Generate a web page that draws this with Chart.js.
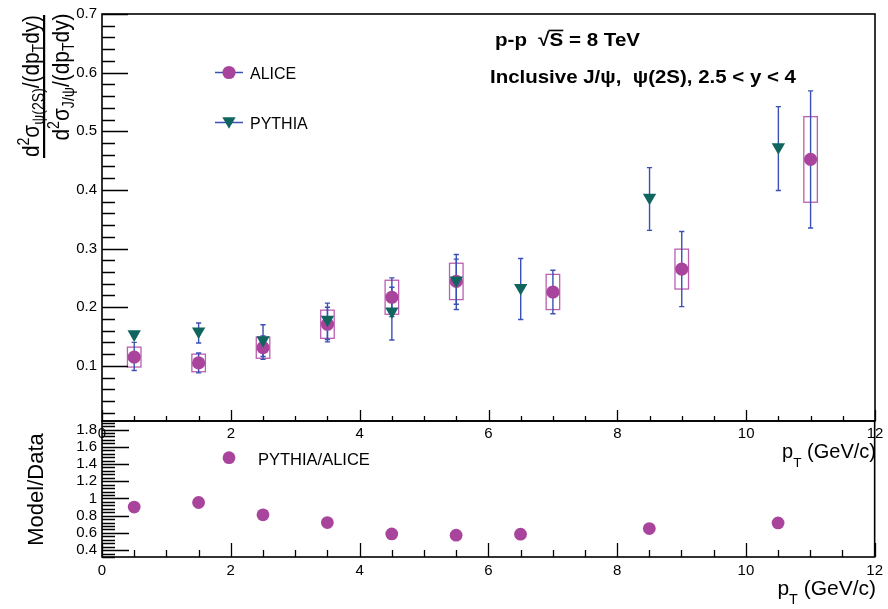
<!DOCTYPE html>
<html>
<head>
<meta charset="utf-8">
<script src="https://cdn.jsdelivr.net/npm/chart.js@4.4.1/dist/chart.umd.min.js"></script>
<style>
  body { margin: 0; background: #fff; }
  #wrap { position: relative; width: 888px; height: 609px; }
  #wrap canvas { position: absolute; left: 0; top: 0; }
</style>
</head>
<body>
<div id="wrap">
  <canvas id="mainChart" width="888" height="609"></canvas>
  <canvas id="ratioChart" width="888" height="609"></canvas>
</div>
<script>
// ALICE psi(2S)/J/psi ratio (points + stat errors + syst boxes)
const aliceX = [0.5, 1.5, 2.5, 3.5, 4.5, 5.5, 7, 9, 11];
const aliceY = [0.115, 0.105, 0.131, 0.171, 0.217, 0.244, 0.226, 0.265, 0.452];
const aliceStatUp = [0.025, 0.017, 0.020, 0.036, 0.033, 0.038, 0.037, 0.064, 0.117];
const aliceStatDown = [0.023, 0.017, 0.020, 0.030, 0.033, 0.039, 0.037, 0.064, 0.117];
const aliceSyst = [0.017, 0.015, 0.018, 0.024, 0.029, 0.031, 0.030, 0.034, 0.073];

// PYTHIA prediction
const pythiaX = [0.5, 1.5, 2.5, 3.5, 4.5, 5.5, 6.5, 8.5, 10.5];
const pythiaY = [0.154, 0.159, 0.144, 0.179, 0.193, 0.246, 0.233, 0.387, 0.473];
const pythiaErrUp = [0.004, 0.014, 0.026, 0.021, 0.041, 0.044, 0.050, 0.051, 0.069];
const pythiaErrDown = [0.004, 0.020, 0.028, 0.034, 0.049, 0.050, 0.054, 0.056, 0.074];

// PYTHIA/ALICE
const ratioX = [0.5, 1.5, 2.5, 3.5, 4.5, 5.5, 6.5, 8.5, 10.5];
const ratioY = [0.90, 0.953, 0.81, 0.72, 0.588, 0.573, 0.585, 0.65, 0.716];

// axes
const xTicks = [0, 2, 4, 6, 8, 10, 12];
const mainYTicks = [0.1, 0.2, 0.3, 0.4, 0.5, 0.6, 0.7];
const ratioYTicks = [0.4, 0.6, 0.8, 1, 1.2, 1.4, 1.6, 1.8];

const MAGENTA = '#a9449c';
const TEAL = '#10665f';
const BLUE = '#3b50b3';
const BOX = '#bb5fb0';
const FONT = "'Liberation Sans', Arial, sans-serif";

Chart.defaults.font.family = FONT;
Chart.defaults.color = '#000';

// texte avec indices / exposants (style ROOT)
function richText(ctx, parts, x, y, size, opt) {
    opt = opt || {};
    const weight = opt.bold ? 'bold ' : '';
    const subOff = opt.sub !== undefined ? opt.sub : 0.32;
    const fontFor = k => weight + (k === 'sub' || k === 'sup' ? size * 0.68 : size) + 'px ' + FONT;
    let total = 0;
    parts.forEach(p => { ctx.font = fontFor(p[1]); total += ctx.measureText(p[0]).width; });
    ctx.save();
    ctx.translate(x, y);
    if (opt.rotate) ctx.rotate(-Math.PI / 2);
    const sx = opt.width ? opt.width / total : 1;
    ctx.scale(sx, 1);
    let cx = opt.align === 'center' ? -total / 2 : (opt.align === 'right' ? -total : 0);
    ctx.fillStyle = '#000';
    ctx.textBaseline = 'alphabetic';
    ctx.textAlign = 'left';
    parts.forEach(p => {
        ctx.font = fontFor(p[1]);
        const w = ctx.measureText(p[0]).width;
        let dy = 0;
        if (p[1] === 'sub') dy = size * subOff;
        if (p[1] === 'sup') dy = -size * 0.42;
        ctx.fillText(p[0], cx, dy);
        if (p[1] === 'bar') {
            ctx.fillRect(cx - 1, -size * 0.86, w + 1, 1.6);
        }
        cx += w;
    });
    ctx.restore();
}

function drawFrameAndTicks(chart, cfg) {
    const { ctx, chartArea: a, scales: { x, y } } = chart;
    ctx.save();
    ctx.strokeStyle = '#000';
    ctx.lineWidth = 1.3;
    ctx.beginPath();
    for (let i = 0; i <= 24; i++) {
        const px = Math.round(x.getPixelForValue(i * 0.5)) + 0.5;
        const len = i % 4 === 0 ? cfg.xMajor : cfg.xMinor;
        ctx.moveTo(px, a.bottom);
        ctx.lineTo(px, a.bottom - len);
    }
    const first = Math.ceil(y.min / cfg.yStep - 1e-6);
    for (let i = first; i * cfg.yStep <= y.max + 1e-9; i++) {
        const py = Math.round(y.getPixelForValue(i * cfg.yStep)) + 0.5;
        const len = i % 5 === 0 ? cfg.yMajor : cfg.yMinor;
        ctx.moveTo(a.left, py);
        ctx.lineTo(a.left + len, py);
    }
    ctx.stroke();
    ctx.lineWidth = 1.6;
    ctx.strokeRect(a.left, a.top, a.right - a.left, a.bottom - a.top);
    ctx.restore();
}

function errorBar(ctx, x, y, xv, yv, up, down) {
    const px = x.getPixelForValue(xv);
    const top = y.getPixelForValue(yv + up);
    const bot = y.getPixelForValue(yv - down);
    ctx.beginPath();
    ctx.moveTo(px, top); ctx.lineTo(px, bot);
    ctx.moveTo(px - 2.6, top); ctx.lineTo(px + 2.6, top);
    ctx.moveTo(px - 2.6, bot); ctx.lineTo(px + 2.6, bot);
    ctx.stroke();
}

function downTriangle(ctx, cx, cy, r, color) {
    ctx.fillStyle = color;
    ctx.beginPath();
    ctx.moveTo(cx, cy + r);
    ctx.lineTo(cx - r * 0.866, cy - r * 0.5);
    ctx.lineTo(cx + r * 0.866, cy - r * 0.5);
    ctx.closePath();
    ctx.fill();
}

const mainPlugin = {
    id: 'mainDeco',
    beforeDatasetsDraw(chart) {
        const { ctx, scales: { x, y } } = chart;
        ctx.save();
        // boites systematiques ALICE
        ctx.strokeStyle = BOX;
        ctx.lineWidth = 1.3;
        aliceX.forEach((xv, i) => {
            const x0 = x.getPixelForValue(xv - 0.105);
            const x1 = x.getPixelForValue(xv + 0.105);
            const y0 = y.getPixelForValue(aliceY[i] + aliceSyst[i]);
            const y1 = y.getPixelForValue(aliceY[i] - aliceSyst[i]);
            ctx.strokeRect(x0, y0, x1 - x0, y1 - y0);
        });
        // barres d'erreur
        ctx.strokeStyle = BLUE;
        ctx.lineWidth = 1.4;
        aliceX.forEach((xv, i) => errorBar(ctx, x, y, xv, aliceY[i], aliceStatUp[i], aliceStatDown[i]));
        pythiaX.forEach((xv, i) => errorBar(ctx, x, y, xv, pythiaY[i], pythiaErrUp[i], pythiaErrDown[i]));
        ctx.restore();
    },
    afterDraw(chart) {
        const ctx = chart.ctx;
        drawFrameAndTicks(chart, { xMajor: 11, xMinor: 5, yStep: 0.02, yMajor: 26, yMinor: 13 });

        // legende
        ctx.save();
        ctx.strokeStyle = BLUE;
        ctx.lineWidth = 1.4;
        ctx.beginPath();
        ctx.moveTo(215, 72.5); ctx.lineTo(243, 72.5);
        ctx.moveTo(215, 122.5); ctx.lineTo(243, 122.5);
        ctx.stroke();
        ctx.fillStyle = MAGENTA;
        ctx.beginPath();
        ctx.arc(229, 72.5, 6.6, 0, Math.PI * 2);
        ctx.fill();
        downTriangle(ctx, 229, 121, 7.7, TEAL);
        ctx.restore();
        richText(ctx, [['ALICE', '']], 250, 79, 16);
        richText(ctx, [['PYTHIA', '']], 250, 129, 16);

        // titres
        richText(ctx, [['p-p  ', ''], ['\u221A', ''], ['S', 'bar'], [' = 8 TeV', '']], 495, 46, 19, { bold: true, width: 145 });
        richText(ctx, [['Inclusive J/\u03C8,  \u03C8(2S), 2.5 < y < 4', '']], 490, 83, 19, { bold: true, width: 306 });

        // titre axe y (fraction)
        richText(ctx, [['d', ''], ['2', 'sup'], ['\u03C3', ''], ['\u03C8(2S)', 'sub'], ['/(dp', ''], ['T', 'sub'], ['dy)', '']],
            39, 86, 24, { rotate: true, align: 'center', width: 142, sub: 0.22 });
        richText(ctx, [['d', ''], ['2', 'sup'], ['\u03C3', ''], ['J/\u03C8', 'sub'], ['/(dp', ''], ['T', 'sub'], ['dy)', '']],
            69, 77, 24, { rotate: true, align: 'center', width: 127, sub: 0.22 });
        ctx.save();
        ctx.fillStyle = '#000';
        ctx.fillRect(43, 15, 2.2, 143);
        ctx.restore();

        // titre axe x
        richText(ctx, [['p', ''], ['T', 'sub'], [' (GeV/c)', '']], 876, 458, 20, { align: 'right', sub: 0.45 });
    }
};

const ratioPlugin = {
    id: 'ratioDeco',
    afterDraw(chart) {
        const ctx = chart.ctx;
        drawFrameAndTicks(chart, { xMajor: 14, xMinor: 7, yStep: 0.04, yMajor: 27, yMinor: 13 });
        ctx.save();
        ctx.fillStyle = MAGENTA;
        ctx.beginPath();
        ctx.arc(229, 457.7, 6.4, 0, Math.PI * 2);
        ctx.fill();
        ctx.restore();
        richText(ctx, [['PYTHIA/ALICE', '']], 258, 465, 16.5);
        richText(ctx, [['Model/Data', '']], 43, 489.5, 22, { rotate: true, align: 'center' });
        richText(ctx, [['p', ''], ['T', 'sub'], [' (GeV/c)', '']], 876, 595, 21, { align: 'right', sub: 0.45 });
    }
};

function xScale(height, fontSize, pad) {
    return {
        type: 'linear', min: 0, max: 12,
        grid: { display: false, drawTicks: false },
        border: { display: false },
        afterBuildTicks: s => { s.ticks = xTicks.map(v => ({ value: v })); },
        afterFit: s => { s.height = height; },
        ticks: { autoSkip: false, maxRotation: 0, padding: pad, font: { size: fontSize }, color: '#000',
                 callback: v => String(v) }
    };
}

function yScale(min, max, list) {
    return {
        type: 'linear', min: min, max: max,
        grid: { display: false, drawTicks: false },
        border: { display: false },
        afterBuildTicks: s => { s.ticks = list.map(v => ({ value: v })); },
        afterFit: s => { s.width = 102; },
        ticks: { autoSkip: false, padding: 5, font: { size: 15 }, color: '#000',
                 callback: v => String(Math.round(v * 10) / 10) }
    };
}

const common = {
    responsive: false,
    animation: false,
    devicePixelRatio: 1,
    events: [],
    plugins: { legend: { display: false }, tooltip: { enabled: false } }
};

new Chart(document.getElementById('mainChart').getContext('2d'), {
    type: 'scatter',
    data: {
        datasets: [
            {
                label: 'PYTHIA',
                data: pythiaX.map((x, i) => ({ x: x, y: pythiaY[i] })),
                pointStyle: 'triangle', rotation: 180, pointRadius: 7.7,
                backgroundColor: TEAL, borderWidth: 0, order: 0
            },
            {
                label: 'ALICE',
                data: aliceX.map((x, i) => ({ x: x, y: aliceY[i] })),
                pointStyle: 'circle', pointRadius: 6.6,
                backgroundColor: MAGENTA, borderWidth: 0, order: 1
            }
        ]
    },
    options: Object.assign({}, common, {
        layout: { padding: { left: 0, top: 10, right: 13, bottom: 158 } },
        scales: { x: xScale(30, 15, 4), y: yScale(0.006, 0.7, mainYTicks) }
    }),
    plugins: [mainPlugin]
});

new Chart(document.getElementById('ratioChart').getContext('2d'), {
    type: 'scatter',
    data: {
        datasets: [{
            label: 'PYTHIA/ALICE',
            data: ratioX.map((x, i) => ({ x: x, y: ratioY[i] })),
            pointStyle: 'circle', pointRadius: 6.4,
            backgroundColor: MAGENTA, borderWidth: 0
        }]
    },
    options: Object.assign({}, common, {
        layout: { padding: { left: 0, top: 421, right: 13, bottom: 22 } },
        scales: { x: xScale(30, 15, 5), y: yScale(0.32, 1.9, ratioYTicks) }
    }),
    plugins: [ratioPlugin]
});
</script>
</body>
</html>
